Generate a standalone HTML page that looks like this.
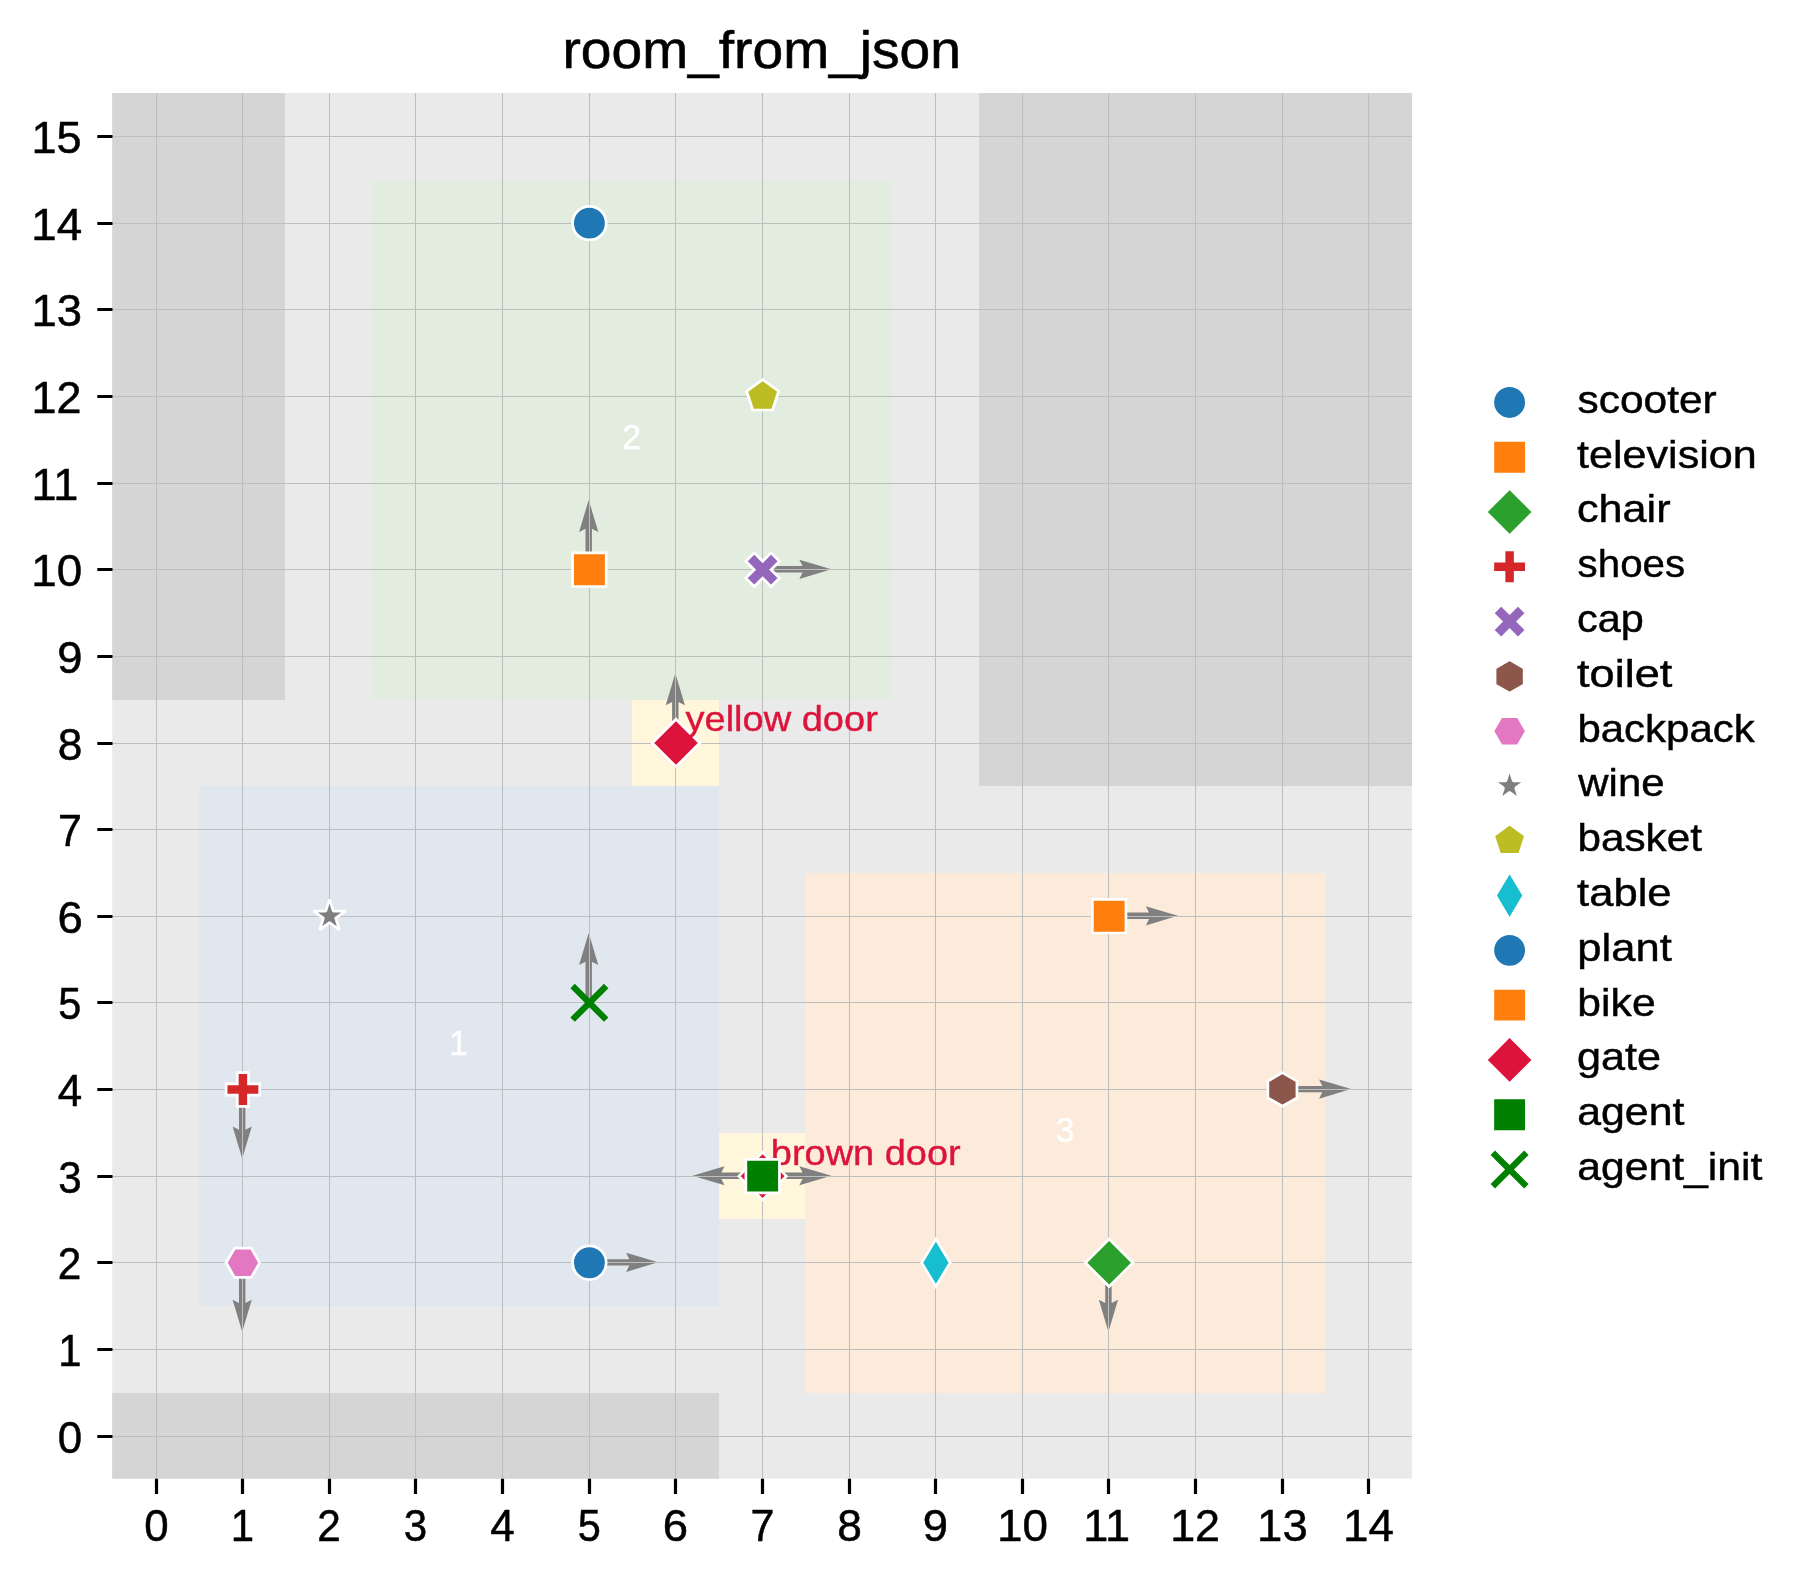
<!DOCTYPE html>
<html lang="en"><head><meta charset="utf-8"><title>room_from_json</title>
<style>
html,body{margin:0;padding:0;background:#fff;}
body{width:1807px;height:1580px;overflow:hidden;font-family:"Liberation Sans",sans-serif;}
svg{display:block;will-change:transform;}
text{font-family:"Liberation Sans",sans-serif;}
</style></head><body>
<svg width="1807" height="1580" viewBox="0 0 1807 1580" font-family="'Liberation Sans', sans-serif">
<rect x="112.2" y="93" width="1299.7" height="1385.7" fill="#eaeaea"/>
<rect x="112.2" y="93" width="172.8" height="607" fill="#d5d5d5"/>
<rect x="979" y="93" width="432.9" height="693" fill="#d5d5d5"/>
<rect x="112.2" y="1393" width="606.8" height="85.7" fill="#d5d5d5"/>
<rect x="199" y="786" width="520" height="520" fill="#e0e7ef"/>
<rect x="372" y="180" width="520" height="520" fill="#e2ede0"/>
<rect x="805" y="873" width="520" height="520" fill="#fcebda"/>
<rect x="632" y="700" width="87" height="86" fill="#fff6dc"/>
<rect x="719" y="1133" width="86" height="86" fill="#fff6dc"/>
<g fill="#fff">
<text transform="translate(449.27 1055.1) scale(0.9498 1)" font-size="35.33" fill="#fff" stroke="#fff" stroke-width="0.4">1</text>
<text transform="translate(622.15 449.2) scale(0.9586 1)" font-size="35.33" fill="#fff" stroke="#fff" stroke-width="0.4">2</text>
<text transform="translate(1055.78 1141.8) scale(0.9551 1)" font-size="35.33" fill="#fff" stroke="#fff" stroke-width="0.4">3</text>
</g>
<polygon points="585.5,569.28 585.5,528.68 579.1,531.88 588.7,499.88 598.3,531.88 591.9,528.68 591.9,569.28" fill="#808080"/>
<polygon points="1111.64,1262.36 1111.64,1302.96 1118.04,1299.76 1108.44,1331.76 1098.84,1299.76 1105.24,1302.96 1105.24,1262.36" fill="#808080"/>
<polygon points="245.4,1089.09 245.4,1129.69 251.8,1126.49 242.2,1158.49 232.6,1126.49 239,1129.69 239,1089.09" fill="#808080"/>
<polygon points="761.95,566.08 802.55,566.08 799.35,559.68 831.35,569.28 799.35,578.88 802.55,572.48 761.95,572.48" fill="#808080"/>
<polygon points="1281.69,1085.89 1322.29,1085.89 1319.09,1079.49 1351.09,1089.09 1319.09,1098.69 1322.29,1092.29 1281.69,1092.29" fill="#808080"/>
<polygon points="245.4,1262.36 245.4,1302.96 251.8,1299.76 242.2,1331.76 232.6,1299.76 239,1302.96 239,1262.36" fill="#808080"/>
<polygon points="588.7,1259.16 629.3,1259.16 626.1,1252.76 658.1,1262.36 626.1,1271.96 629.3,1265.56 588.7,1265.56" fill="#808080"/>
<polygon points="1108.44,912.62 1149.04,912.62 1145.84,906.22 1177.84,915.82 1145.84,925.42 1149.04,919.02 1108.44,919.02" fill="#808080"/>
<polygon points="672.12,742.55 672.12,701.95 665.72,705.15 675.32,673.15 684.92,705.15 678.52,701.95 678.52,742.55" fill="#808080"/>
<polygon points="761.95,1172.53 802.55,1172.53 799.35,1166.13 831.35,1175.73 799.35,1185.33 802.55,1178.93 761.95,1178.93" fill="#808080"/>
<polygon points="761.95,1178.93 721.35,1178.93 724.55,1185.33 692.55,1175.73 724.55,1166.13 721.35,1172.53 761.95,1172.53" fill="#808080"/>
<polygon points="585.5,1002.46 585.5,961.86 579.1,965.06 588.7,933.06 598.3,965.06 591.9,961.86 591.9,1002.46" fill="#808080"/>
<path d="M156.5 93V1478.7M242.5 93V1478.7M329.5 93V1478.7M415.5 93V1478.7M502.5 93V1478.7M589.5 93V1478.7M675.5 93V1478.7M762.5 93V1478.7M849.5 93V1478.7M935.5 93V1478.7M1022.5 93V1478.7M1108.5 93V1478.7M1195.5 93V1478.7M1282.5 93V1478.7M1368.5 93V1478.7M112.2 1436.5H1411.9M112.2 1349.5H1411.9M112.2 1262.5H1411.9M112.2 1176.5H1411.9M112.2 1089.5H1411.9M112.2 1002.5H1411.9M112.2 916.5H1411.9M112.2 829.5H1411.9M112.2 743.5H1411.9M112.2 656.5H1411.9M112.2 569.5H1411.9M112.2 483.5H1411.9M112.2 396.5H1411.9M112.2 309.5H1411.9M112.2 223.5H1411.9M112.2 136.5H1411.9" stroke="#bebebe" stroke-width="1.04" fill="none"/>
<path d="M156.5 1478.7v15.4M242.5 1478.7v15.4M329.5 1478.7v15.4M415.5 1478.7v15.4M502.5 1478.7v15.4M589.5 1478.7v15.4M675.5 1478.7v15.4M762.5 1478.7v15.4M849.5 1478.7v15.4M935.5 1478.7v15.4M1022.5 1478.7v15.4M1108.5 1478.7v15.4M1195.5 1478.7v15.4M1282.5 1478.7v15.4M1368.5 1478.7v15.4M112.5 1436.5h-15.2M112.5 1349.5h-15.2M112.5 1262.5h-15.2M112.5 1176.5h-15.2M112.5 1089.5h-15.2M112.5 1002.5h-15.2M112.5 916.5h-15.2M112.5 829.5h-15.2M112.5 743.5h-15.2M112.5 656.5h-15.2M112.5 569.5h-15.2M112.5 483.5h-15.2M112.5 396.5h-15.2M112.5 309.5h-15.2M112.5 223.5h-15.2M112.5 136.5h-15.2" stroke="#000" stroke-width="3.2" fill="none"/>
<text transform="translate(144.28 1541.3) scale(0.9945 1)" font-size="44.17" fill="#000" stroke="#000" stroke-width="0.5">0</text>
<text transform="translate(230.63 1541.3) scale(0.9498 1)" font-size="44.17" fill="#000" stroke="#000" stroke-width="0.5">1</text>
<text transform="translate(317.17 1541.3) scale(0.9586 1)" font-size="44.17" fill="#000" stroke="#000" stroke-width="0.5">2</text>
<text transform="translate(403.81 1541.3) scale(0.9551 1)" font-size="44.17" fill="#000" stroke="#000" stroke-width="0.5">3</text>
<text transform="translate(490.27 1541.3) scale(0.9946 1)" font-size="44.17" fill="#000" stroke="#000" stroke-width="0.5">4</text>
<text transform="translate(577.8 1541.3) scale(0.9385 1)" font-size="44.17" fill="#000" stroke="#000" stroke-width="0.5">5</text>
<text transform="translate(662.85 1541.3) scale(1.0293 1)" font-size="44.17" fill="#000" stroke="#000" stroke-width="0.5">6</text>
<text transform="translate(750.46 1541.3) scale(0.9728 1)" font-size="44.17" fill="#000" stroke="#000" stroke-width="0.5">7</text>
<text transform="translate(837.14 1541.3) scale(1.0052 1)" font-size="44.17" fill="#000" stroke="#000" stroke-width="0.5">8</text>
<text transform="translate(922.74 1541.3) scale(1.0272 1)" font-size="44.17" fill="#000" stroke="#000" stroke-width="0.5">9</text>
<text transform="translate(997.08 1541.3) scale(1.0372 1)" font-size="44.17" fill="#000" stroke="#000" stroke-width="0.5">10</text>
<text transform="translate(1083.13 1541.3) scale(1.0227 1)" font-size="44.17" fill="#000" stroke="#000" stroke-width="0.5">11</text>
<text transform="translate(1170.15 1541.3) scale(1.0168 1)" font-size="44.17" fill="#000" stroke="#000" stroke-width="0.5">12</text>
<text transform="translate(1257.1 1541.3) scale(1.0293 1)" font-size="44.17" fill="#000" stroke="#000" stroke-width="0.5">13</text>
<text transform="translate(1343.08 1541.3) scale(1.0367 1)" font-size="44.17" fill="#000" stroke="#000" stroke-width="0.5">14</text>
<text transform="translate(57.82 1452.9) scale(0.9945 1)" font-size="44.17" fill="#000" stroke="#000" stroke-width="0.5">0</text>
<text transform="translate(58.17 1365.9) scale(0.9498 1)" font-size="44.17" fill="#000" stroke="#000" stroke-width="0.5">1</text>
<text transform="translate(57.71 1278.9) scale(0.9586 1)" font-size="44.17" fill="#000" stroke="#000" stroke-width="0.5">2</text>
<text transform="translate(58.36 1192.9) scale(0.9551 1)" font-size="44.17" fill="#000" stroke="#000" stroke-width="0.5">3</text>
<text transform="translate(57.81 1105.9) scale(0.9946 1)" font-size="44.17" fill="#000" stroke="#000" stroke-width="0.5">4</text>
<text transform="translate(58.34 1018.9) scale(0.9385 1)" font-size="44.17" fill="#000" stroke="#000" stroke-width="0.5">5</text>
<text transform="translate(57.39 932.9) scale(1.0293 1)" font-size="44.17" fill="#000" stroke="#000" stroke-width="0.5">6</text>
<text transform="translate(58 845.9) scale(0.9728 1)" font-size="44.17" fill="#000" stroke="#000" stroke-width="0.5">7</text>
<text transform="translate(57.69 759.9) scale(1.0052 1)" font-size="44.17" fill="#000" stroke="#000" stroke-width="0.5">8</text>
<text transform="translate(57.29 672.9) scale(1.0272 1)" font-size="44.17" fill="#000" stroke="#000" stroke-width="0.5">9</text>
<text transform="translate(31.36 585.9) scale(1.0372 1)" font-size="44.17" fill="#000" stroke="#000" stroke-width="0.5">10</text>
<text transform="translate(31.41 499.9) scale(1.0227 1)" font-size="44.17" fill="#000" stroke="#000" stroke-width="0.5">11</text>
<text transform="translate(31.43 412.9) scale(1.0168 1)" font-size="44.17" fill="#000" stroke="#000" stroke-width="0.5">12</text>
<text transform="translate(31.39 325.9) scale(1.0293 1)" font-size="44.17" fill="#000" stroke="#000" stroke-width="0.5">13</text>
<text transform="translate(31.37 239.9) scale(1.0367 1)" font-size="44.17" fill="#000" stroke="#000" stroke-width="0.5">14</text>
<text transform="translate(31.42 152.9) scale(1.0203 1)" font-size="44.17" fill="#000" stroke="#000" stroke-width="0.5">15</text>
<text transform="translate(562.42 68) scale(1.0558 1)" font-size="52.25" fill="#000" stroke="#000" stroke-width="0.6">room_from_json</text>
<circle cx="589.4" cy="223.14" r="16.8" fill="#1f77b4" stroke="#fff" stroke-width="2.7"/>
<polygon points="572.6,552.88 606.2,552.88 606.2,586.48 572.6,586.48" fill="#ff7f0e" stroke="#fff" stroke-width="2.7" stroke-linejoin="miter"/>
<polygon points="1109.14,1239 1132.9,1262.76 1109.14,1286.52 1085.39,1262.76" fill="#2ca02c" stroke="#fff" stroke-width="2.7" stroke-linejoin="miter"/>
<polygon points="237.3,1072.69 248.5,1072.69 248.5,1083.89 259.7,1083.89 259.7,1095.09 248.5,1095.09 248.5,1106.29 237.3,1106.29 237.3,1095.09 226.1,1095.09 226.1,1083.89 237.3,1083.89" fill="#d62728" stroke="#fff" stroke-width="2.7" stroke-linejoin="miter"/>
<polygon points="754.25,552.88 762.65,561.28 771.05,552.88 779.45,561.28 771.05,569.68 779.45,578.08 771.05,586.48 762.65,578.08 754.25,586.48 745.85,578.08 754.25,569.68 745.85,561.28" fill="#9467bd" stroke="#fff" stroke-width="2.7" stroke-linejoin="miter"/>
<polygon points="1282.39,1072.69 1267.84,1081.09 1267.84,1097.89 1282.39,1106.29 1296.94,1097.89 1296.94,1081.09" fill="#8c564b" stroke="#fff" stroke-width="2.7" stroke-linejoin="miter"/>
<polygon points="234.5,1248.21 226.1,1262.76 234.5,1277.31 251.3,1277.31 259.7,1262.76 251.3,1248.21" fill="#e377c2" stroke="#fff" stroke-width="2.7" stroke-linejoin="miter"/>
<polygon points="329.53,899.42 325.76,911.03 313.55,911.03 323.43,918.2 319.65,929.81 329.53,922.64 339.4,929.81 335.63,918.2 345.51,911.03 333.3,911.03" fill="#7f7f7f" stroke="#fff" stroke-width="2.7" stroke-linejoin="bevel"/>
<polygon points="762.65,379.61 746.67,391.22 752.77,410 772.52,410 778.63,391.22" fill="#bcbd22" stroke="#fff" stroke-width="2.7" stroke-linejoin="miter"/>
<polygon points="935.9,1239 950.15,1262.76 935.9,1286.52 921.64,1262.76" fill="#17becf" stroke="#fff" stroke-width="2.7" stroke-linejoin="miter"/>
<circle cx="589.4" cy="1262.76" r="16.8" fill="#1f77b4" stroke="#fff" stroke-width="2.7"/>
<polygon points="1092.34,899.42 1125.94,899.42 1125.94,933.02 1092.34,933.02" fill="#ff7f0e" stroke="#fff" stroke-width="2.7" stroke-linejoin="miter"/>
<polygon points="676.02,719.19 699.78,742.95 676.02,766.71 652.27,742.95" fill="#dc143c" stroke="#fff" stroke-width="2.7" stroke-linejoin="miter"/>
<polygon points="762.65,1152.37 786.41,1176.13 762.65,1199.88 738.89,1176.13" fill="#dc143c" stroke="#fff" stroke-width="2.7" stroke-linejoin="miter"/>
<text transform="translate(685.51 731) scale(1.0919 1)" font-size="34.83" fill="#dc143c" stroke="#dc143c" stroke-width="0.4">yellow door</text>
<text transform="translate(770.85 1164.8) scale(1.0899 1)" font-size="34.83" fill="#dc143c" stroke="#dc143c" stroke-width="0.4">brown door</text>
<polygon points="745.85,1159.33 779.45,1159.33 779.45,1192.93 745.85,1192.93" fill="#008000" stroke="#fff" stroke-width="2.7" stroke-linejoin="miter"/>
<path d="M572.6 986.06L606.2 1019.66M572.6 1019.66L606.2 986.06" stroke="#008000" stroke-width="6.25" fill="none"/>
<circle cx="1509.6" cy="402.45" r="16.8" fill="#1f77b4" stroke="#fff" stroke-width="2.7"/>
<text transform="translate(1577.55 412.85) scale(1.0823 1)" font-size="39.19" fill="#000" stroke="#000" stroke-width="0.45">scooter</text>
<polygon points="1492.8,440.44 1526.4,440.44 1526.4,474.04 1492.8,474.04" fill="#ff7f0e" stroke="#fff" stroke-width="2.7" stroke-linejoin="miter"/>
<text transform="translate(1577.05 467.64) scale(1.1006 1)" font-size="39.19" fill="#000" stroke="#000" stroke-width="0.45">television</text>
<polygon points="1509.6,488.27 1533.36,512.03 1509.6,535.79 1485.84,512.03" fill="#2ca02c" stroke="#fff" stroke-width="2.7" stroke-linejoin="miter"/>
<text transform="translate(1576.93 522.43) scale(1.1030 1)" font-size="39.19" fill="#000" stroke="#000" stroke-width="0.45">chair</text>
<polygon points="1504,550.02 1515.2,550.02 1515.2,561.22 1526.4,561.22 1526.4,572.42 1515.2,572.42 1515.2,583.62 1504,583.62 1504,572.42 1492.8,572.42 1492.8,561.22 1504,561.22" fill="#d62728" stroke="#fff" stroke-width="2.7" stroke-linejoin="miter"/>
<text transform="translate(1577.61 577.22) scale(1.0287 1)" font-size="39.19" fill="#000" stroke="#000" stroke-width="0.45">shoes</text>
<polygon points="1501.2,604.81 1509.6,613.21 1518,604.81 1526.4,613.21 1518,621.61 1526.4,630.01 1518,638.41 1509.6,630.01 1501.2,638.41 1492.8,630.01 1501.2,621.61 1492.8,613.21" fill="#9467bd" stroke="#fff" stroke-width="2.7" stroke-linejoin="miter"/>
<text transform="translate(1577.01 632.01) scale(1.0569 1)" font-size="39.19" fill="#000" stroke="#000" stroke-width="0.45">cap</text>
<polygon points="1509.6,659.6 1495.05,668 1495.05,684.8 1509.6,693.2 1524.15,684.8 1524.15,668" fill="#8c564b" stroke="#fff" stroke-width="2.7" stroke-linejoin="miter"/>
<text transform="translate(1577.02 686.8) scale(1.1521 1)" font-size="39.19" fill="#000" stroke="#000" stroke-width="0.45">toilet</text>
<polygon points="1501.2,716.64 1492.8,731.19 1501.2,745.74 1518,745.74 1526.4,731.19 1518,716.64" fill="#e377c2" stroke="#fff" stroke-width="2.7" stroke-linejoin="miter"/>
<text transform="translate(1577.4 741.59) scale(1.0713 1)" font-size="39.19" fill="#000" stroke="#000" stroke-width="0.45">backpack</text>
<polygon points="1509.6,769.18 1505.83,780.79 1493.62,780.79 1503.5,787.96 1499.73,799.57 1509.6,792.4 1519.47,799.57 1515.7,787.96 1525.58,780.79 1513.37,780.79" fill="#7f7f7f" stroke="#fff" stroke-width="2.7" stroke-linejoin="bevel"/>
<text transform="translate(1578.34 796.38) scale(1.0690 1)" font-size="39.19" fill="#000" stroke="#000" stroke-width="0.45">wine</text>
<polygon points="1509.6,823.97 1493.62,835.58 1499.73,854.36 1519.47,854.36 1525.58,835.58" fill="#bcbd22" stroke="#fff" stroke-width="2.7" stroke-linejoin="miter"/>
<text transform="translate(1577.38 851.17) scale(1.0787 1)" font-size="39.19" fill="#000" stroke="#000" stroke-width="0.45">basket</text>
<polygon points="1509.6,871.8 1523.86,895.56 1509.6,919.32 1495.34,895.56" fill="#17becf" stroke="#fff" stroke-width="2.7" stroke-linejoin="miter"/>
<text transform="translate(1577.05 905.96) scale(1.1129 1)" font-size="39.19" fill="#000" stroke="#000" stroke-width="0.45">table</text>
<circle cx="1509.6" cy="950.35" r="16.8" fill="#1f77b4" stroke="#fff" stroke-width="2.7"/>
<text transform="translate(1577.3 960.75) scale(1.1120 1)" font-size="39.19" fill="#000" stroke="#000" stroke-width="0.45">plant</text>
<polygon points="1492.8,988.34 1526.4,988.34 1526.4,1021.94 1492.8,1021.94" fill="#ff7f0e" stroke="#fff" stroke-width="2.7" stroke-linejoin="miter"/>
<text transform="translate(1577.36 1015.54) scale(1.0885 1)" font-size="39.19" fill="#000" stroke="#000" stroke-width="0.45">bike</text>
<polygon points="1509.6,1036.17 1533.36,1059.93 1509.6,1083.69 1485.84,1059.93" fill="#dc143c" stroke="#fff" stroke-width="2.7" stroke-linejoin="miter"/>
<text transform="translate(1576.95 1070.33) scale(1.1044 1)" font-size="39.19" fill="#000" stroke="#000" stroke-width="0.45">gate</text>
<polygon points="1492.8,1097.92 1526.4,1097.92 1526.4,1131.52 1492.8,1131.52" fill="#008000" stroke="#fff" stroke-width="2.7" stroke-linejoin="miter"/>
<text transform="translate(1577.13 1125.12) scale(1.0943 1)" font-size="39.19" fill="#000" stroke="#000" stroke-width="0.45">agent</text>
<path d="M1492.8 1152.71L1526.4 1186.31M1492.8 1186.31L1526.4 1152.71" stroke="#008000" stroke-width="6.25" fill="none"/>
<text transform="translate(1577.14 1179.91) scale(1.0907 1)" font-size="39.19" fill="#000" stroke="#000" stroke-width="0.45">agent_init</text>
</svg>
</body></html>
